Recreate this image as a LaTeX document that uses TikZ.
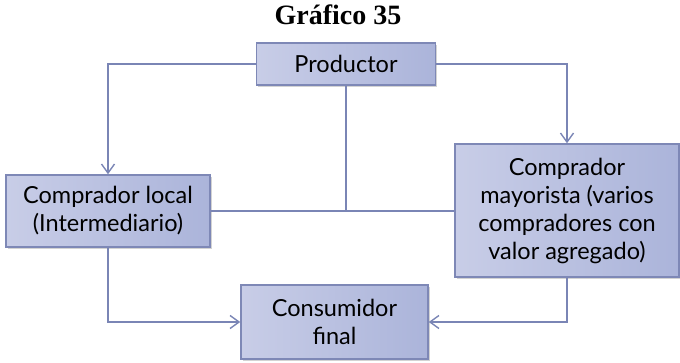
\documentclass[tikz,border=0pt]{standalone}
\usepackage{fontspec}
\setmainfont{Lato}
\newfontfamily\titlefont{Liberation Serif}
\usepackage{tikz}
\usetikzlibrary{arrows.meta,shadows,positioning}

\definecolor{boxlight}{HTML}{C8CDE7}
\definecolor{boxdark}{HTML}{ABB4DA}
\definecolor{boxline}{HTML}{7E88B6}
\definecolor{linkline}{HTML}{7A85B5}

\begin{document}
\begin{tikzpicture}[x=1pt,y=-1pt,>={Straight Barb[length=9pt,width=13pt]},
                    main node/.style={rectangle,draw=boxline,line width=1.5pt,
                      left color=boxlight,right color=boxdark,
                      drop shadow={shadow xshift=1.5pt,shadow yshift=-2pt,opacity=0.35},
                      align=center,inner sep=0pt,font=\fontsize{23.5}{28}\selectfont},
                    link/.style={draw=linkline,line width=1.4pt}]

      \useasboundingbox (0,0) rectangle (680,363);

      \node[font=\titlefont\bfseries\fontsize{28}{30}\selectfont,anchor=base] (0) at (338,25) {Gráfico 35};
      \node[main node,minimum width=179pt,minimum height=42pt] (1) at (346,64) {Productor};
      \node[main node,minimum width=204pt,minimum height=72pt] (2) at (108,211) {Comprador local\\(Intermediario)};
      \node[main node,minimum width=224pt,minimum height=133pt] (3) at (567,210.5) {Comprador\\mayorista (varios\\compradores con\\valor agregado)};
      \node[main node,minimum width=187pt,minimum height=74pt] (4) at (334.5,322) {Consumidor\\final};

      % Productor a compradores
      \draw[link,->] (1.west) -| (2.north);
      \draw[link,->] (1.east) -| (3.north);
      \draw[link] (2.east) -- (2.east -| 3.west);
      \draw[link] (1.south) -- (1.south |- 2.east);
      % compradores a consumidor
      \draw[link,->] (2.south) |- (4.west);
      \draw[link,->] (3.south) |- (4.east);
    \end{tikzpicture}
\end{document}
